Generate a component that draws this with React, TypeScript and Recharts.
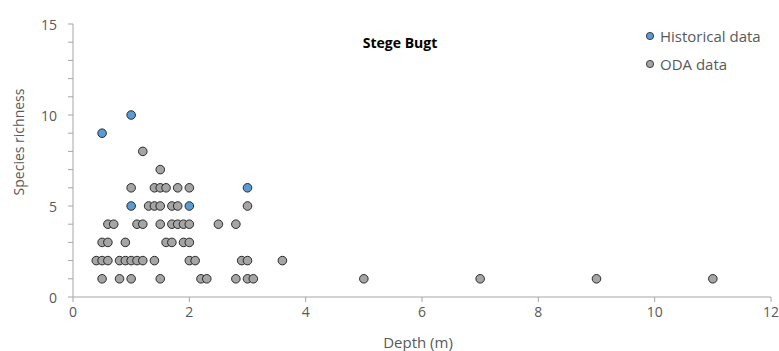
import React from 'react';
import { ScatterChart, Scatter, XAxis, YAxis } from 'recharts';

// Historical survey stations (depth in m, species count)
const historicalDepth = [0.5, 1, 1, 2, 3];
const historicalRichness = [9, 10, 5, 5, 6];

// ODA stations
const odaDepth = [
  1.2,
  1.5,
  1.0, 1.4, 1.5, 1.6, 1.8, 2.0,
  1.3, 1.4, 1.5, 1.7, 1.8, 3.0,
  0.6, 0.7, 1.1, 1.2, 1.5, 1.7, 1.8, 1.9, 2.0, 2.5, 2.8,
  0.5, 0.6, 0.9, 1.6, 1.7, 1.9, 2.0,
  0.4, 0.5, 0.6, 0.8, 0.9, 1.0, 1.1, 1.2, 1.4, 2.0, 2.1, 2.9, 3.0, 3.6,
  0.5, 0.8, 1.0, 1.5, 2.2, 2.3, 2.8, 3.0, 3.1, 5, 7, 9, 11,
];
const odaRichness = [
  8,
  7,
  6, 6, 6, 6, 6, 6,
  5, 5, 5, 5, 5, 5,
  4, 4, 4, 4, 4, 4, 4, 4, 4, 4, 4,
  3, 3, 3, 3, 3, 3, 3,
  2, 2, 2, 2, 2, 2, 2, 2, 2, 2, 2, 2, 2, 2,
  1, 1, 1, 1, 1, 1, 1, 1, 1, 1, 1, 1, 1,
];

const seriesNames = ['Historical data', 'ODA data'];
const xTicks = [0, 2, 4, 6, 8, 10, 12];
const yTicks = [0, 1, 2, 3, 4, 5, 6, 7, 8, 9, 10, 11, 12, 13, 14, 15];

const FONT = '"Open Sans", Lato, sans-serif';
const TEXT = '#595959';
const AXIS = '#a6a6a6';
const BLUE = '#5b9bd5';
const GREY = '#a5a5a5';

const historical = historicalDepth.map((x, i) => ({ x, y: historicalRichness[i] }));
const oda = odaDepth.map((x, i) => ({ x, y: odaRichness[i] }));

const dot = (fill: string) => (props: any) => (
  <circle cx={props.cx} cy={props.cy} r={4.3} fill={fill} stroke="#1a1a1a" strokeWidth={0.9} />
);

// only every fifth minor tick carries a label
const YTick = (props: any) => {
  const { x, y, payload } = props;
  if (payload.value % 5 !== 0) return null;
  return (
    <text x={x} y={y} textAnchor="end" dominantBaseline="central" fill={TEXT} fontSize={14} fontFamily={FONT}>
      {payload.value}
    </text>
  );
};

const YLabel = () => (
  <text
    x={18}
    y={142}
    transform="rotate(-90, 18, 142)"
    textAnchor="middle"
    dominantBaseline="central"
    fill={TEXT}
    fontSize={14}
    fontFamily={FONT}
  >
    Species richness
  </text>
);

const LegendBox = () => (
  <div
    style={{
      position: 'absolute',
      left: 645,
      top: 22,
      fontFamily: FONT,
      fontSize: 15,
      color: TEXT,
      lineHeight: '28px',
      zIndex: 2,
    }}
  >
    {seriesNames.map((name, i) => (
      <div key={name} style={{ display: 'flex', alignItems: 'center' }}>
        <svg width={10} height={10} style={{ marginRight: 5 }}>
          <circle cx={5} cy={5} r={3.6} fill={i === 0 ? BLUE : GREY} stroke="#1a1a1a" strokeWidth={0.8} />
        </svg>
        {name}
      </div>
    ))}
  </div>
);

export default function App() {
  return (
    <div style={{ position: 'absolute', left: 0, top: 0, width: 779, height: 351, background: '#fff' }}>
      <div
        style={{
          position: 'absolute',
          left: 300,
          width: 200,
          top: 33,
          textAlign: 'center',
          fontFamily: FONT,
          fontWeight: 700,
          fontSize: 14,
          color: '#000',
          zIndex: 2,
        }}
      >
        Stege Bugt
      </div>
      <LegendBox />
      <ScatterChart width={779} height={351} margin={{ top: 24, right: 8, bottom: 0, left: 0 }}>
        <XAxis
          type="number"
          dataKey="x"
          domain={[0, 12]}
          ticks={xTicks}
          interval={0}
          height={54}
          tickSize={5}
          tickMargin={5}
          stroke={AXIS}
          tick={{ fill: TEXT, fontSize: 14, fontFamily: FONT }}
          label={{ value: 'Depth (m)', position: 'insideBottom', offset: 3, dx: -4, fill: TEXT, fontSize: 15, fontFamily: FONT }}
        />
        <YAxis
          type="number"
          dataKey="y"
          domain={[0, 15]}
          ticks={yTicks}
          interval={0}
          width={73}
          tickSize={5}
          tickMargin={11}
          stroke={AXIS}
          tick={<YTick />}
          label={<YLabel />}
        />
        <Scatter name={seriesNames[1]} data={oda} fill={GREY} shape={dot(GREY)} isAnimationActive={false} />
        <Scatter name={seriesNames[0]} data={historical} fill={BLUE} shape={dot(BLUE)} isAnimationActive={false} />
      </ScatterChart>
    </div>
  );
}
